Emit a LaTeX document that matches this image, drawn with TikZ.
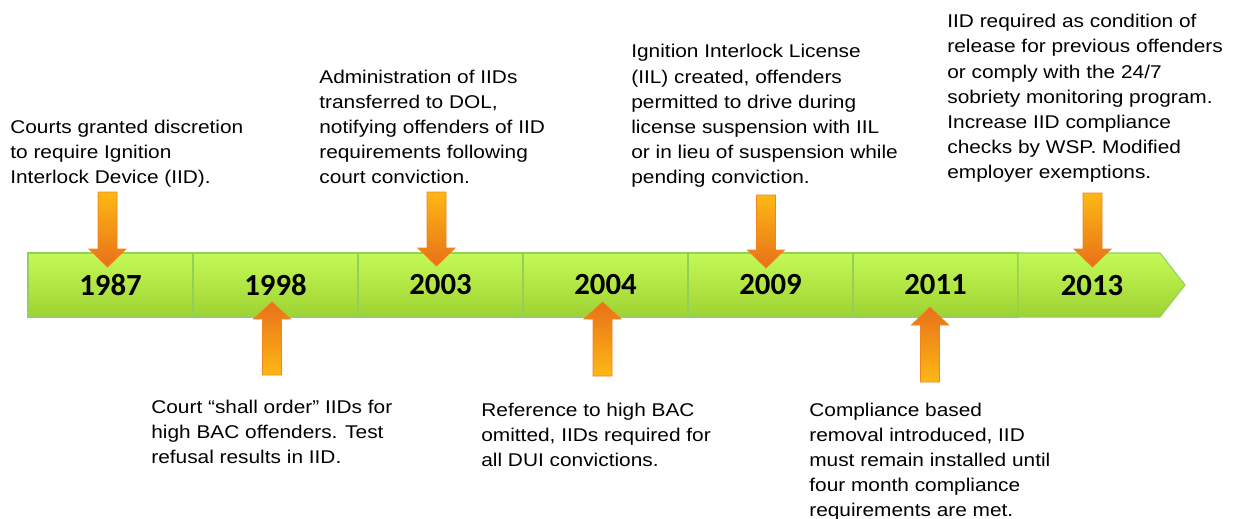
\documentclass[tikz,border=0pt]{standalone}
\usepackage{fontspec}
\setmainfont{Liberation Sans}
\newfontfamily\notefont{Liberation Sans}[FakeStretch=1.13]
\newfontfamily\yearfont{Carlito}
\usepackage{tikz}
\definecolor{boxtop}{RGB}{196, 250, 88}
\definecolor{boxbot}{RGB}{158, 210, 50}
\definecolor{boxedge}{RGB}{146, 208, 90}
\definecolor{arrowlight}{RGB}{253, 184, 20}
\definecolor{arrowdark}{RGB}{232, 112, 26}
\definecolor{arrowedge}{RGB}{242, 132, 30}
% block arrow: style, x, tail y, head base y, tip y
\newcommand{\blockarrow}[5]{\path[#1] ({#2-9.5}, #3) -- ({#2+9.5}, #3) -- ({#2+9.5}, #4) -- ({#2+18.5}, #4) -- (#2, #5) -- ({#2-18.5}, #4) -- ({#2-9.5}, #4) -- cycle;}

\begin{document}
\begin{tikzpicture}[x = 0.02cm, y = -0.02cm,
	yearbox/.style = {draw = boxedge, line width = 0.6pt, top color = boxtop, bottom color = boxbot, minimum width = 3.3cm, minimum height = 1.28cm, inner sep = 0pt, font = \yearfont\bfseries\fontsize{17.5}{20}\selectfont},
	yeartext/.style = {inner sep = 0pt, font = \yearfont\bfseries\fontsize{17.5}{20}\selectfont},
	note/.style = {align = left, inner sep = 0pt, anchor = base west, font = \notefont\fontsize{10.5}{14.23}\selectfont},
	downarrow/.style = {draw = arrowedge, line width = 0.5pt, top color = arrowlight, bottom color = arrowdark},
	uparrow/.style = {draw = arrowedge, line width = 0.5pt, top color = arrowdark, bottom color = arrowlight}]
	\useasboundingbox (0, 0) rectangle (1233, 518);
	\node[yearbox] (y1987) at (110.5, 285) {1987};
	\node[yearbox] (y1998) at (275.5, 285) {1998};
	\node[yearbox] (y2003) at (440.5, 285) {2003};
	\node[yearbox] (y2004) at (605.5, 285) {2004};
	\node[yearbox] (y2009) at (770.5, 285) {2009};
	\node[yearbox] (y2011) at (935.5, 285) {2011};
	\path[draw = boxedge, line width = 0.6pt, top color = boxtop, bottom color = boxbot] (1018, 253) -- (1160, 253) -- (1185, 285) -- (1160, 317) -- (1018, 317) -- cycle;
	\node[yeartext] (y2013) at (1092, 286) {2013};
	\blockarrow{downarrow}{107.5}{192}{249}{267}
	\blockarrow{uparrow}{272}{375}{319}{302}
	\blockarrow{downarrow}{436.5}{192}{248}{266}
	\blockarrow{uparrow}{602.5}{376}{319}{302}
	\blockarrow{downarrow}{766}{195}{250}{268}
	\blockarrow{uparrow}{930}{382}{325}{307}
	\blockarrow{downarrow}{1092.5}{193}{249}{267}
	\node[note] (t1987) at (10, 183) {Courts granted discretion\\to require Ignition\\Interlock Device (IID).};
	\node[note] (t1998) at (151, 463) {Court “shall order” IIDs for\\high BAC offenders. Test\\refusal results in IID.};
	\node[note] (t2003) at (319, 183) {Administration of IIDs\\transferred to DOL,\\notifying offenders of IID\\requirements following\\court conviction.};
	\node[note] (t2004) at (481, 466) {Reference to high BAC\\omitted, IIDs required for\\all DUI convictions.};
	\node[note] (t2009) at (631, 183) {Ignition Interlock License\\(IIL) created, offenders\\permitted to drive during\\license suspension with IIL\\or in lieu of suspension while\\pending conviction.};
	\node[note] (t2011) at (809, 516) {Compliance based\\removal introduced, IID\\must remain installed until\\four month compliance\\requirements are met.};
	\node[note] (t2013) at (947, 178) {IID required as condition of\\release for previous offenders\\or comply with the 24/7\\sobriety monitoring program.\\Increase IID compliance\\checks by WSP. Modified\\employer exemptions.};
\end{tikzpicture}
\end{document}
